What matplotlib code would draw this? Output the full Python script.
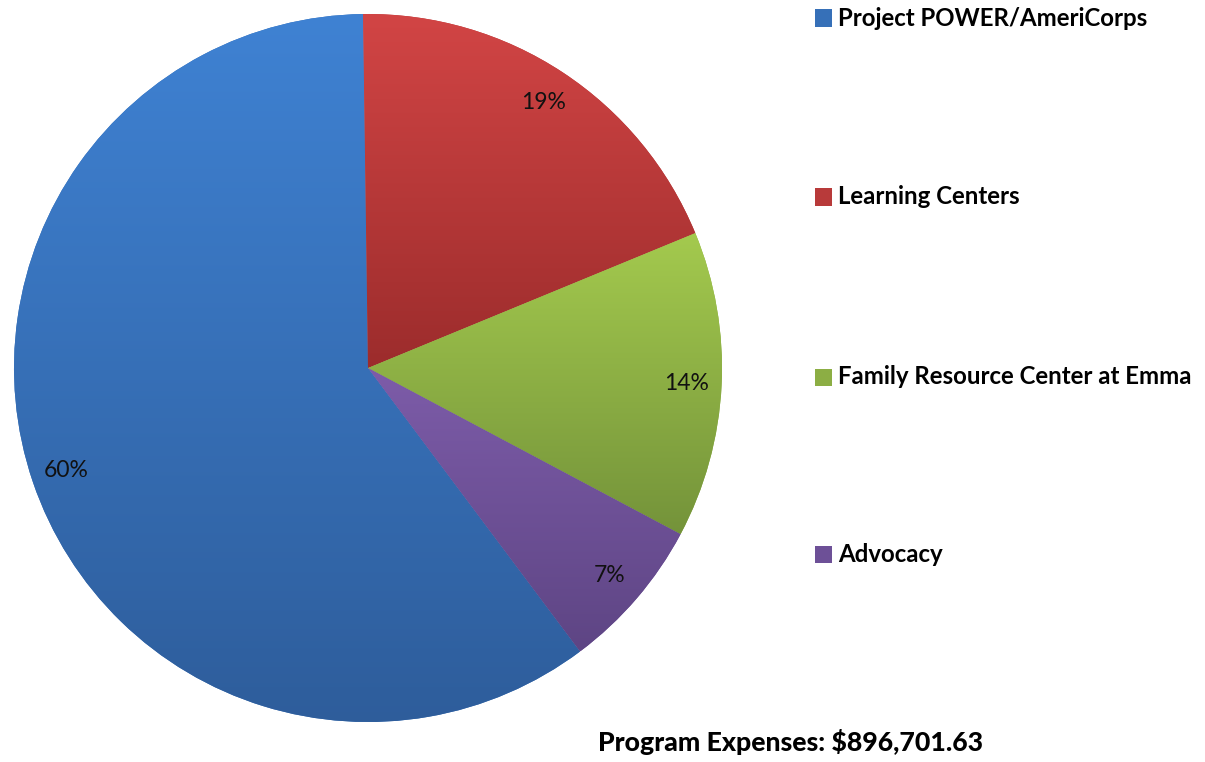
import matplotlib
matplotlib.use("Agg")
import matplotlib.pyplot as plt
import numpy as np
from matplotlib.colors import LinearSegmentedColormap
from matplotlib.patches import Rectangle

categories = ["Project POWER/AmeriCorps", "Learning Centers",
              "Family Resource Center at Emma", "Advocacy"]
values = [60, 19, 14, 7]
pct_labels = ["60%", "19%", "14%", "7%"]
total_label = "Program Expenses: $896,701.63"

top_colors = ["#3f82d3", "#d24545", "#a4ca4e", "#7d5ca9"]
bottom_colors = ["#2e5d9b", "#9c2c2c", "#74933a", "#5e4584"]
mid_colors = ["#3670b8", "#b83a3a", "#8cae44", "#6d5097"]

W, H = 1205, 762
fig = plt.figure(figsize=(W / 100, H / 100), dpi=100)
cx, cy, r = 368, 368, 354
ax = fig.add_axes([(cx - r) / W, (H - cy - r) / H, 2 * r / W, 2 * r / H])

wedges, texts, autotexts = ax.pie(
    values, colors=mid_colors, startangle=306.8, counterclock=False,
    labels=None, autopct=lambda p: "", pctdistance=0.9, radius=1.0,
    wedgeprops=dict(linewidth=0))

for w, txt, lab, c0, c1 in zip(wedges, autotexts, pct_labels, top_colors, bottom_colors):
    txt.set_text(lab)
    txt.set_fontsize(16.5)
    txt.set_family("Lato")
    txt.set_color("#111111")
    verts = w.get_patch_transform().transform(w.get_path().vertices)
    xmin, xmax = verts[:, 0].min(), verts[:, 0].max()
    ymin, ymax = verts[:, 1].min(), verts[:, 1].max()
    cmap = LinearSegmentedColormap.from_list("g", [c1, c0])
    grad = np.linspace(1, 0, 256).reshape(-1, 1)
    im = ax.imshow(grad, cmap=cmap, extent=[xmin, xmax, ymin, ymax],
                   aspect="auto", zorder=w.get_zorder() + 0.1, interpolation="bicubic")
    im.set_clip_path(w)
    txt.set_zorder(10)

ax.set_xlim(-1.0, 1.0)
ax.set_ylim(-1.0, 1.0)
ax.set_aspect("equal")
ax.axis("off")

legend_y = [18, 197, 377, 554]
for i, (lab, yy) in enumerate(zip(categories, legend_y)):
    sq = 17
    fig.patches.append(Rectangle((815 / W, (H - yy - sq / 2) / H), sq / W, sq / H,
                                 transform=fig.transFigure, facecolor=mid_colors[i],
                                 edgecolor="none"))
    fig.text(838 / W, (H - yy) / H, lab, fontsize=17.3, fontweight="bold",
             family="Lato", va="center", ha="left", color="#000000")

fig.text(598 / W, (H - 742) / H, total_label, fontsize=19.2, fontweight="black",
         family="Lato", va="center", ha="left", color="#000000")

fig.savefig("out.png", dpi=100, facecolor="white")
